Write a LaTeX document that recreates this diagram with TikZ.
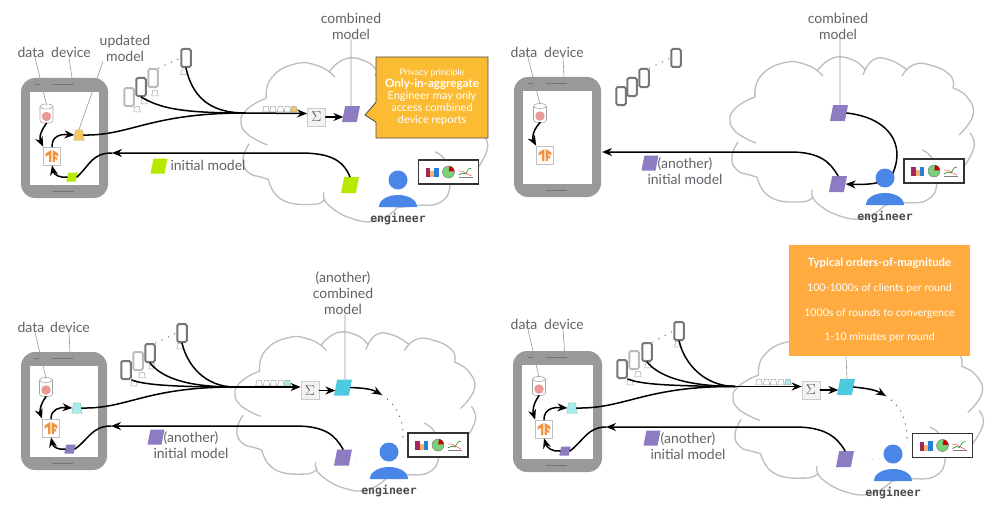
\documentclass[tikz,border=0pt]{standalone}
\usepackage{fontspec}
\setmainfont{Lato}
\newfontfamily\enginefont{DejaVu Sans Mono}
\usetikzlibrary{arrows.meta,shapes.geometric,shapes.callouts}
\definecolor{labelgray}{HTML}{5F6368}
\definecolor{casegray}{HTML}{999999}
\definecolor{cloudgray}{HTML}{BDBDBD}
\definecolor{limemodel}{HTML}{B7E800}
\definecolor{purplemodel}{HTML}{8E7CC3}
\definecolor{cyanmodel}{HTML}{4DC9E0}
\definecolor{paleupdate}{HTML}{A6ECEC}
\definecolor{yellowupdate}{HTML}{F6C75E}
\definecolor{engblue}{HTML}{4A86E8}
\definecolor{phonedark}{HTML}{777777}
\definecolor{phonelight}{HTML}{BBBBBB}
\definecolor{tforange}{HTML}{F2933A}
\definecolor{notepeach}{HTML}{FFAB40}
\definecolor{noteyellow}{HTML}{FBBC34}
\definecolor{spotpink}{HTML}{EA9999}
\tikzset{
  lab/.style={text=labelgray, font=\fontsize{14}{16}\selectfont, align=center, inner sep=0pt},
  pointer/.style={draw=gray!80, line width=.6pt},
  cloudline/.style={draw=cloudgray, line width=1.3pt},
  flowline/.style={draw=black, line width=1.5pt, line cap=round},
  flowarrow/.style={flowline, -{Stealth[length=10pt,width=8pt]}},
  sparsedots/.style={line cap=round, line width=1.3pt, dash pattern=on 0pt off 7pt},
  tinybody/.style={inner sep=.5pt, trapezium stretches=true, execute at begin node={\phantom{\rule{1pt}{1pt}}}},
  model/.style={trapezium, trapezium left angle=75, trapezium right angle=105, tinybody,
    minimum width=18, minimum height=16, fill=#1},
  smallmodel/.style={model=#1, minimum width=11.5, minimum height=9},
  legendmodel/.style={model=#1, minimum width=17, minimum height=15},
  update/.style={trapezium, trapezium left angle=75, trapezium right angle=75, tinybody,
    minimum width=10.5, minimum height=10.5, draw=gray!60, fill=#1},
  tinymodel/.style={trapezium, trapezium left angle=75, trapezium right angle=75, tinybody,
    minimum width=6.5, minimum height=5.5, draw=gray!70, line width=.5pt, fill=#1},
  phone/.style={rectangle, rounded corners=1.5pt, draw=#1, line width=2pt, fill=white,
    minimum width=9.5, minimum height=18, inner sep=0pt},
  dbcan/.style={rectangle, minimum width=13, minimum height=19, inner sep=0pt},
  spot/.style={circle, fill=spotpink, minimum size=9.5, inner sep=0pt},
  tfbox/.style={rectangle, draw=gray!50, line width=.7pt, fill=white, minimum width=17, minimum height=18, inner sep=0pt},
  sumbox/.style={rectangle, draw=gray!40, line width=.7pt, fill=gray!10, minimum width=18, minimum height=18,
    inner sep=0pt, text=labelgray, font=\fontsize{15}{15}\selectfont},
  reportbox/.style={rectangle, draw=black!80, line width=1.1pt, fill=white, minimum width=60, minimum height=24, inner sep=0pt},
  enginelabel/.style={text=black!70, font=\enginefont\bfseries\fontsize{11.5}{12}\selectfont, inner sep=0pt},
}
% device body with its two speaker slots
\newcommand{\device}[4]{%
  \node[rectangle, rounded corners=14pt, fill=casegray, inner sep=0pt, minimum width=#3, minimum height=#4] (#1) at (#2) {};
  \node[rectangle, fill=white, inner sep=0pt, minimum width=#3-18, minimum height=#4-27] (#1screen) at (#2) {};
  \draw[black!55, line width=.7pt] ([xshift=-30pt,yshift=-7pt]#1.north) -- ++(5,0);
  \draw[black!55, line width=.7pt] ([xshift=-12pt,yshift=-7pt]#1.north) -- ++(21,0);
  \draw[black!55, line width=.7pt] ([xshift=-12pt,yshift=6.5pt]#1.south) -- ++(21,0);
}
\newcommand{\datacan}[2]{%
  \node[dbcan] (#1) at (#2) {};
  \begin{scope}[shift={(#1)}]
    \draw[gray!70, fill=white, line width=.6pt] (-6.5,-7) -- (-6.5,7) .. controls (-6.5,10.5) and (6.5,10.5) .. (6.5,7) -- (6.5,-7);
    \draw[gray!70, fill=white, line width=.6pt] (0,-7) ellipse (6.5pt and 2.5pt);
  \end{scope}
  \node[spot] (#1spot) at ([yshift=-3pt]#1) {};
}
\newcommand{\tflogo}[1]{%
  \begin{scope}[shift={(#1)}]
    \fill[tforange] (-6.3,-2.5) -- (-.6,-6) -- (-.6,6) -- (-2.8,6) -- (-2.8,-1.5) -- (-6.3,.7) -- cycle;
    \fill[tforange] (.6,-6) -- (6.3,-2.5) -- (6.3,.7) -- (2.8,-1.5) -- (2.8,.2) -- (5,1.6) -- (5,4) -- (2.8,2.6) -- (2.8,6) -- (.6,6) -- cycle;
  \end{scope}
}
\newcommand{\report}[2]{%
  \node[reportbox] (#1) at (#2) {};
  \begin{scope}[shift={(#1)}]
    \fill[violet!60!red!70!gray] (-23,-4) rectangle (-18.5,5);
    \fill[orange!60] (-18.5,-1) rectangle (-14.5,5);
    \fill[blue!50!cyan!70!gray] (-14.5,-4.5) rectangle (-10,5);
    \draw[gray, fill=green!50!gray!70, line width=.5pt] (0,0) circle (6pt);
    \fill[red!80!black] (.3,-.6) -- (1,-6) .. controls (3.5,-6) and (5.5,-3.5) .. (6,-.6) -- cycle;
    \draw[gray, line width=.5pt] (10,5) -- (24,5);
    \draw[red!70, line width=.5pt] (10,-1) -- (14,-1) -- (17,1) -- (23,4);
    \draw[green!50!black, line width=.5pt] (10,3) -- (14,1) -- (17,2) -- (20,-3) -- (23,-4);
  \end{scope}
}
\newcommand{\engineer}[2]{%
  \node[circle, fill=engblue, minimum size=19, inner sep=0pt] (#1) at (#2) {};
  \begin{scope}[shift={(#1)}]
    \fill[engblue] (-19,27) .. controls (-19,19) and (-9,15) .. (0,15) .. controls (9,15) and (19,19) .. (19,27) -- cycle;
  \end{scope}
  \node[enginelabel] (#1label) at ([yshift=-39pt]#1) {engineer};
}
\newcommand{\skycloud}[4]{%
  \begin{scope}[shift={(#1,#2)},xscale=#3,yscale=#4]
    \draw[cloudline] plot[smooth,tension=.85] coordinates {(93,18) (77,7) (53,5) (30,19) (25,39)};
    \draw[cloudline] plot[smooth,tension=.85] coordinates {(87,13) (103,0) (123,2) (135,12)};
    \draw[cloudline] plot[smooth,tension=.85] coordinates {(133,17) (143,2) (160,2) (177,12)};
    \draw[cloudline] plot[smooth,tension=.85] coordinates {(172,18) (183,7) (200,7) (220,17) (223,30)};
    \draw[cloudline] plot[smooth,tension=.85] coordinates {(223,30) (237,39) (243,57) (229,77)};
    \draw[cloudline] plot[smooth,tension=.85] coordinates {(240,75) (244,89) (233,110)};
    \draw[cloudline] plot[smooth,tension=.85] coordinates {(192,92) (203,102) (207,125) (197,142) (173,145) (155,147)};
    \draw[cloudline] plot[smooth,tension=.85] coordinates {(82,132) (87,145) (113,159) (137,159) (155,147)};
    \draw[cloudline] plot[smooth,tension=.85] coordinates {(27,119) (40,139) (70,144) (83,139)};
    \draw[cloudline] plot[smooth,tension=.85] coordinates {(8,84) (2,99) (7,112) (20,117) (27,119)};
    \draw[cloudline] plot[smooth,tension=.85] coordinates {(25,39) (14,44) (3,53) (0,62) (4,72) (15,80) (26,85)};
  \end{scope}
}
\begin{document}
\begin{tikzpicture}[x=1pt,y=-1pt]
  \useasboundingbox[fill=white] (0,0) rectangle (1004,511);

  % top left: devices report updates
  \skycloud{241}{59}{1.01}{1.01}
  \device{devA}{64.5,138}{87}{120}
  \datacan{dataA}{46.5,113.5}
  \node[tfbox] (tfA) at (52,156) {};
  \tflogo{tfA}
  \node[update=yellowupdate] (updA) at (79,135) {};
  \node[smallmodel=limemodel] (initA) at (72,177) {};
  \node[phone=phonelight] (pA1) at (129,97) {};
  \node[phone=phonedark] (pA2) at (141,87) {};
  \node[phone=phonelight] (pA3) at (153,78) {};
  \node[phone=phonedark] (pA4) at (186,58) {};
  \node[tinymodel=white] (tA1) at (137,109) {};
  \node[tinymodel=white] (tA2) at (144,101) {};
  \node[tinymodel=white] (tA3) at (155,93) {};
  \node[tinymodel=white] (tA4) at (184,72) {};
  \draw[sparsedots, black!70] (pA3.north east) -- (pA4.west);
  \coordinate (mergeA) at (245,113);
  \coordinate (inA) at (112,153);
  \node[sumbox] (sumA) at (316.5,117) {$\Sigma$};
  \node[model=purplemodel] (combA) at (351,114) {};
  \node[model=limemodel] (modelA) at (350,185) {};
  \foreach \i/\q in {0/266,1/273,2/280.5,3/287.5} \node[tinymodel=white] (qA\i) at (\q,109) {};
  \node[tinymodel=yellowupdate] (qA4) at (294,109) {};
  \draw[flowline] (pA4.south) .. controls (192,95) and (208,113) .. (mergeA);
  \draw[flowline] (pA2.south) .. controls (160,108) and (180,113) .. (mergeA);
  \draw[flowline] (updA.east) .. controls (130,136) and (150,113) .. (mergeA);
  \draw[flowarrow] (mergeA) -- ([yshift=3.5pt]sumA.west);
  \draw[flowarrow] (sumA.east) -- (sumA.east -| combA.west);
  \draw[flowarrow] (modelA.north) .. controls (343,160) and (330,153) .. (300,153) -- (inA);
  \draw[flowline] (inA) .. controls (92,153) and (90,165) .. (initA.east);
  \draw[flowarrow] (initA.west) .. controls (60,178) and (54,175) .. (tfA.south);
  \draw[flowarrow] (tfA.north) .. controls (52,136) and (60,134) .. (updA.west);
  \draw[flowarrow] (dataA.south) .. controls (38,135) and (40,140) .. (tfA.north west);
  \node[lab] (dataAlab) at (31,52) {data};
  \node[lab] (devAlab) at (71,52) {device};
  \node[lab] (updAlab) at (125,48) {updated\\model};
  \node[lab] (combAlab) at (351,26) {combined\\model};
  \node[lab] (initAlab) at (208,165) {initial model};
  \node[legendmodel=limemodel] (legA) at (159,166) {};
  \draw[pointer] ([xshift=4pt]dataAlab.south) -- ([yshift=-1pt]dataA.north);
  \draw[pointer] ([xshift=-2pt]devAlab.south) -- ([xshift=7.5pt]devA.north);
  \draw[pointer] ([xshift=-22pt]updAlab.south) -- (updA.north);
  \draw[pointer] (combAlab.south) -- (combA.north);
  \node[rectangle callout, callout absolute pointer={(365,115)}, callout pointer width=20pt,
    fill=noteyellow, draw=black!70, line width=.8pt, minimum width=112, minimum height=81,
    inner sep=0pt, align=center, text=white, font=\fontsize{11}{12}\selectfont] (noteA) at (432,97.5)
    {{\fontsize{9}{12}\selectfont Privacy principle}\\{\fontsize{11.6}{12}\selectfont\textbf{Only-in-aggregate}}\\Engineer may only\\access combined\\device reports};
  \report{repA}{448.5,172}
  \engineer{engA}{398,180}

  % top right: a new round starts
  \skycloud{730}{58}{1}{1}
  \device{devB}{557.5,137}{87}{120}
  \datacan{dataB}{540,113}
  \node[tfbox] (tfB) at (545,155) {};
  \tflogo{tfB}
  \node[phone=phonedark] (pB1) at (621,96) {};
  \node[phone=phonedark] (pB2) at (632,87) {};
  \node[phone=phonedark] (pB3) at (644,78) {};
  \node[phone=phonedark] (pB4) at (676,58) {};
  \draw[sparsedots, black!70] (pB3.north east) -- (pB4.west);
  \node[model=purplemodel] (combB) at (839,113) {};
  \node[model=purplemodel] (modelB) at (838,184) {};
  \coordinate (turnB) at (893,173);
  \coordinate (inB) at (602,152);
  \draw[flowline] (combB.east) .. controls (890,118) and (905,145) .. (turnB);
  \draw[flowarrow] (turnB) .. controls (889,184) and (865,185) .. (modelB.east);
  \draw[flowarrow] (modelB.north) .. controls (830,162) and (820,152) .. (790,152) -- (inB);
  \draw[flowarrow] (dataB.south) .. controls (531,132) and (533,140) .. (tfB.north west);
  \node[lab] (dataBlab) at (524,52) {data};
  \node[lab] (devBlab) at (564,52) {device};
  \node[lab] (combBlab) at (838,26) {combined\\model};
  \node[lab] (initBlab) at (685,171) {(another)\\initial model};
  \node[legendmodel=purplemodel] (legB) at (650,163) {};
  \draw[pointer] ([xshift=4pt]dataBlab.south) -- ([yshift=-1pt]dataB.north);
  \draw[pointer] ([xshift=-1pt]devBlab.south) -- ([xshift=6.5pt]devB.north);
  \draw[pointer] ([xshift=2pt]combBlab.south) -- ([xshift=1pt]combB.north);
  \report{repB}{934,171}
  \engineer{engB}{885,178}

  % bottom left: the next round
  \skycloud{235}{333}{.985}{.98}
  \device{devC}{64,411}{86}{118}
  \datacan{dataC}{46,387}
  \node[tfbox] (tfC) at (51,428) {};
  \tflogo{tfC}
  \node[update=paleupdate] (updC) at (77,408) {};
  \node[smallmodel=purplemodel] (initC) at (70,449) {};
  \node[phone=phonedark] (pC1) at (126,370) {};
  \node[phone=phonelight] (pC2) at (138,361) {};
  \node[phone=phonedark] (pC3) at (150,353) {};
  \node[phone=phonedark] (pC4) at (182,333) {};
  \node[tinymodel=white] (tC1) at (134,383) {};
  \node[tinymodel=white] (tC2) at (142,375) {};
  \node[tinymodel=white] (tC3) at (152,366) {};
  \node[tinymodel=white] (tC4) at (180,346) {};
  \draw[sparsedots, black!70] (pC3.north east) -- (pC4.west);
  \coordinate (mergeC) at (235,387);
  \coordinate (inC) at (111,426);
  \node[sumbox] (sumC) at (310,390.5) {$\Sigma$};
  \node[model=cyanmodel] (combC) at (343,387.5) {};
  \node[model=purplemodel] (modelC) at (343,457.5) {};
  \foreach \i/\q in {0/259,1/266.5,2/273.5,3/281} \node[tinymodel=white] (qC\i) at (\q,383) {};
  \node[tinymodel=paleupdate] (qC4) at (287.5,383) {};
  \draw[flowline] (pC1.south east) .. controls (142,384) and (165,387) .. (mergeC);
  \draw[flowline] (pC3.south) .. controls (160,375) and (180,387) .. (mergeC);
  \draw[flowline] (pC4.south) .. controls (187,365) and (205,387) .. (mergeC);
  \draw[flowline] (updC.east) .. controls (128,409) and (145,387) .. (mergeC);
  \draw[flowarrow] (mergeC) -- ([yshift=3.5pt]sumC.west);
  \draw[flowarrow] (sumC.east) -- (sumC.east -| combC.west);
  \draw[flowarrow] (modelC.north) .. controls (335,435) and (325,426) .. (295,426) -- (inC);
  \draw[flowline] (inC) .. controls (92,426) and (88,440) .. (initC.east);
  \draw[flowarrow] (initC.west) .. controls (58,450) and (53,447) .. (tfC.south);
  \draw[flowarrow] (tfC.north) .. controls (51,409) and (60,407) .. (updC.west);
  \draw[flowarrow] (dataC.south) .. controls (39,406) and (40,413) .. (tfC.north west);
  \coordinate (fadeC) at (382,395);
  \coordinate (fadeendC) at (403,438);
  \draw[flowarrow] (combC.east) .. controls (358,388) and (370,388) .. (fadeC);
  \draw[sparsedots, black!70] (fadeC) .. controls (392,401) and (404,415) .. (fadeendC);
  \draw[sparsedots, black!15] (fadeendC) .. controls (402,452) and (375,461) .. (modelC.east);
  \node[lab] (dataClab) at (31,327) {data};
  \node[lab] (devClab) at (70,327) {device};
  \node[lab] (combClab) at (343,293.5) {(another)\\combined\\model};
  \node[lab] (initClab) at (191,445) {(another)\\initial model};
  \node[legendmodel=purplemodel] (legC) at (156,437) {};
  \draw[pointer] ([xshift=4pt]dataClab.south) -- ([yshift=-1pt]dataC.north);
  \draw[pointer] ([xshift=-1pt]devClab.south) -- ([xshift=6pt]devC.north);
  \draw[pointer] ([xshift=2pt]combClab.south) -- ([xshift=2pt]combC.north);
  \report{repC}{438,445}
  \engineer{engC}{389,452}

  % bottom right: scale of the process
  \skycloud{733}{337}{1.025}{.98}
  \device{devD}{557.5,411.5}{89}{121}
  \datacan{dataD}{539,386}
  \node[tfbox] (tfD) at (544,429) {};
  \tflogo{tfD}
  \node[update=paleupdate] (updD) at (572,408) {};
  \node[smallmodel=purplemodel] (initD) at (565,451) {};
  \node[phone=phonedark] (pD1) at (622,369) {};
  \node[phone=phonelight] (pD2) at (634,360) {};
  \node[phone=phonedark] (pD3) at (647,352) {};
  \node[phone=phonedark] (pD4) at (679,331) {};
  \node[tinymodel=white] (tD1) at (630,382) {};
  \node[tinymodel=white] (tD2) at (638,374) {};
  \node[tinymodel=white] (tD3) at (648,365) {};
  \node[tinymodel=white] (tD4) at (678,344) {};
  \draw[sparsedots, black!70] (pD3.north east) -- (pD4.west);
  \coordinate (mergeD) at (735,386.5);
  \coordinate (inD) at (606,427);
  \node[sumbox] (sumD) at (811,390) {$\Sigma$};
  \node[model=cyanmodel] (combD) at (846,387) {};
  \node[model=purplemodel] (modelD) at (845,459) {};
  \foreach \i/\q in {0/759,1/766.5,2/773.5,3/781} \node[tinymodel=white] (qD\i) at (\q,382) {};
  \node[tinymodel=paleupdate] (qD4) at (788,382) {};
  \draw[flowline] (pD1.south east) .. controls (640,384) and (665,386) .. (mergeD);
  \draw[flowline] (pD3.south) .. controls (657,374) and (680,386) .. (mergeD);
  \draw[flowline] (pD4.south) .. controls (685,365) and (705,386) .. (mergeD);
  \draw[flowline] (updD.east) .. controls (625,409) and (645,386) .. (mergeD);
  \draw[flowarrow] (mergeD) -- ([yshift=3.5pt]sumD.west);
  \draw[flowarrow] (sumD.east) -- (sumD.east -| combD.west);
  \draw[flowarrow] (modelD.north) .. controls (837,437) and (825,427) .. (795,427) -- (inD);
  \draw[flowline] (inD) .. controls (588,427) and (584,440) .. (initD.east);
  \draw[flowarrow] (initD.west) .. controls (553,452) and (547,448) .. (tfD.south);
  \draw[flowarrow] (tfD.north) .. controls (544,409) and (553,407) .. (updD.west);
  \draw[flowarrow] (dataD.south) .. controls (532,405) and (533,413) .. (tfD.north west);
  \coordinate (fadeD) at (886,396);
  \coordinate (fadeendD) at (907,440);
  \draw[flowarrow] (combD.east) .. controls (862,388) and (874,389) .. (fadeD);
  \draw[sparsedots, black!70] (fadeD) .. controls (896,402) and (908,416) .. (fadeendD);
  \draw[sparsedots, black!15] (fadeendD) .. controls (906,454) and (880,462) .. (modelD.east);
  \node[lab] (dataDlab) at (524,324) {data};
  \node[lab] (devDlab) at (564,324) {device};
  \node[lab] (initDlab) at (688,446) {(another)\\initial model};
  \node[legendmodel=purplemodel] (legD) at (652,438) {};
  \draw[pointer] ([xshift=4pt]dataDlab.south) -- ([yshift=-1pt]dataD.north);
  \draw[pointer] ([xshift=-1pt]devDlab.south) -- ([xshift=7pt]devD.north);
  \node[rectangle, fill=notepeach, inner sep=0pt, minimum width=181, minimum height=111, align=center,
    text=white, font=\fontsize{10.6}{24.7}\selectfont] (noteD) at (879.5,300.5)
    {{\fontsize{11.4}{24.7}\selectfont\textbf{Typical orders-of-magnitude}}\\100-1000s of clients per round\\1000s of rounds to convergence\\1-10 minutes per round};
  \draw[pointer] (noteD.south -| combD.north) -- ([xshift=1pt]combD.north);
  \report{repD}{942.5,445.5}
  \engineer{engD}{893,454}
\end{tikzpicture}
\end{document}
